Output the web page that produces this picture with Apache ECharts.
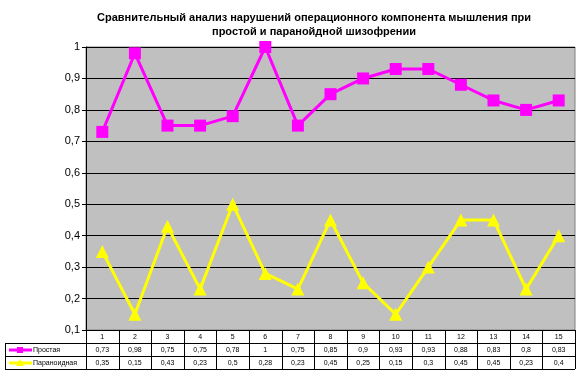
<!DOCTYPE html>
<html><head><meta charset="utf-8">
<script src="https://cdn.jsdelivr.net/npm/echarts@6/dist/echarts.min.js"></script>
<style>html,body{margin:0;padding:0;background:#fff}#c{width:584px;height:381px}</style>
</head><body><div id="c"></div>
<script>
var categories = ['1','2','3','4','5','6','7','8','9','10','11','12','13','14','15'];
var simple = [0.73,0.98,0.75,0.75,0.78,1,0.75,0.85,0.9,0.93,0.93,0.88,0.83,0.8,0.83];
var paranoid = [0.35,0.15,0.43,0.23,0.5,0.28,0.23,0.45,0.25,0.15,0.3,0.45,0.45,0.23,0.4];
var seriesNames = ['Простая','Параноидная'];
var titleText = 'Сравнительный анализ нарушений операционного компонента мышления при\nпростой и паранойдной шизофрении';
var fmt = function(v){ return String(Math.round(v*100)/100).replace('.', ','); };

var chart = echarts.init(document.getElementById('c'));
var FONT = 'Liberation Sans, Arial, sans-serif';
chart.setOption({
  animation: false,
  backgroundColor: '#fff',
  title: { text: titleText, left: 309, textAlign: 'center', top: 6,
    textStyle: { fontFamily: FONT, fontSize: 11, fontWeight: 'bold', color: '#000', lineHeight: 14 } },
  grid: { left: 86, right: 9, top: 47, bottom: 51, show: true, backgroundColor: '#c0c0c0', borderColor: '#808080', borderWidth: 1 },
  xAxis: { type: 'category', data: categories, boundaryGap: true,
    axisLine: { lineStyle: { color: '#000' } }, axisTick: { show: false }, axisLabel: { show: false } },
  yAxis: { type: 'value', min: 0.1, max: 1, interval: 0.1,
    axisLine: { show: true, lineStyle: { color: '#000' } },
    axisTick: { show: true, length: 4, lineStyle: { color: '#000' } },
    splitLine: { lineStyle: { color: '#000', width: 1 } },
    axisLabel: { formatter: fmt, fontFamily: FONT, fontSize: 11, color: '#000', margin: 6 } },
  series: [
    { name: seriesNames[0], type: 'line', data: simple, symbol: 'rect', symbolSize: 12,
      lineStyle: { color: '#ff00ff', width: 3 }, itemStyle: { color: '#ff00ff' } },
    { name: seriesNames[1], type: 'line', data: paranoid, symbol: 'triangle', symbolSize: 13,
      lineStyle: { color: '#ffff00', width: 3 }, itemStyle: { color: '#ffff00' } }
  ]
});

// Data table under the plot
var g = [];
var rect = chart.getModel().getComponent('grid').coordinateSystem.getRect();
var x0 = rect.x, w = rect.width, yTop = rect.y + rect.height;
var cw = w / categories.length, rh = 13, tableLeft = 5;
var rows = [simple, paranoid];
var colors = ['#ff00ff', '#ffff00'];
var ls = { stroke: '#000', lineWidth: 1 };
for (var k = 1; k <= 3; k++) {
  g.push({ type: 'line', shape: { x1: tableLeft, y1: yTop + k * rh + 0.5, x2: x0 + w, y2: yTop + k * rh + 0.5 }, style: ls, silent: true });
}
g.push({ type: 'line', shape: { x1: tableLeft + 0.5, y1: yTop + rh, x2: tableLeft + 0.5, y2: yTop + 3 * rh }, style: ls, silent: true });
for (var i = 0; i <= categories.length; i++) {
  var xx = Math.round(x0 + i * cw) + 0.5;
  g.push({ type: 'line', shape: { x1: xx, y1: yTop, x2: xx, y2: yTop + 3 * rh }, style: ls, silent: true });
}
for (var i = 0; i < categories.length; i++) {
  var cx = chart.convertToPixel({ xAxisIndex: 0 }, i);
  g.push({ type: 'text', x: cx, y: yTop + rh / 2 + 0.5, style: { text: categories[i], fill: '#000', font: '7px ' + FONT, align: 'center', verticalAlign: 'middle' }, silent: true });
  for (var r = 0; r < rows.length; r++) {
    g.push({ type: 'text', x: cx, y: yTop + rh * (r + 1) + rh / 2 + 0.5, style: { text: fmt(rows[r][i]), fill: '#000', font: '7px ' + FONT, align: 'center', verticalAlign: 'middle' }, silent: true });
  }
}
for (var r = 0; r < rows.length; r++) {
  var cy = yTop + rh * (r + 1) + rh / 2 + 0.5;
  g.push({ type: 'line', shape: { x1: 9, y1: cy, x2: 32, y2: cy }, style: { stroke: colors[r], lineWidth: 3 }, silent: true });
  if (r === 0) g.push({ type: 'rect', shape: { x: 17, y: cy - 3, width: 6, height: 6 }, style: { fill: colors[r] }, silent: true });
  else g.push({ type: 'polygon', shape: { points: [[20, cy - 4], [24, cy + 3], [16, cy + 3]] }, style: { fill: colors[r] }, silent: true });
  g.push({ type: 'text', x: 33, y: cy, style: { text: seriesNames[r], fill: '#000', font: '7px ' + FONT, align: 'left', verticalAlign: 'middle' }, silent: true });
}
chart.setOption({ graphic: g });
</script></body></html>
